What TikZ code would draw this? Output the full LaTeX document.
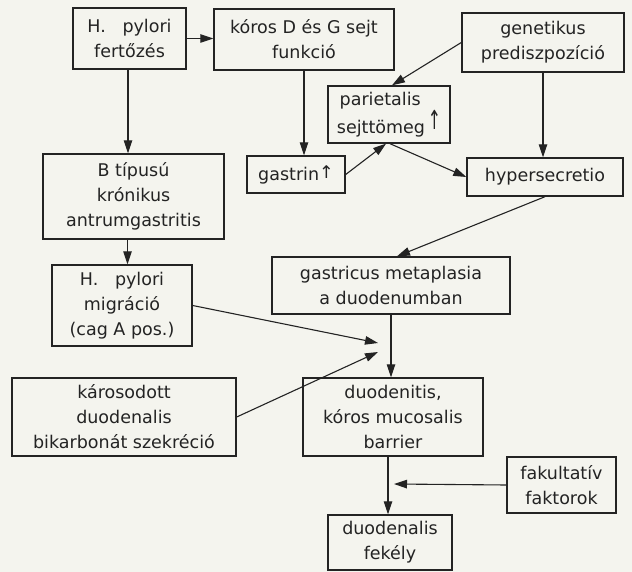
\documentclass[tikz,border=0pt]{standalone}
\usepackage{fontspec}
\setmainfont{DejaVu Sans}
\usepackage{tikz}
\usetikzlibrary{arrows.meta}

\definecolor{paper}{RGB}{244,244,238}
\definecolor{ink}{RGB}{35,35,35}

\tikzset{
    box/.style={draw=ink, line width=1.4pt, text=ink, align=center, inner sep=2pt,
        font=\fontsize{17.5}{25}\selectfont},
    arr/.style={draw=ink, line width=1.1pt, -{Triangle[length=13pt,width=8.5pt]}}
}

\begin{document}
\begin{tikzpicture}[x=1pt, y=-1pt]
    \fill[paper] (0, 0) rectangle (632, 572);
    \useasboundingbox (0, 0) rectangle (632, 572);

    % upper row
    \node[box, minimum width=113pt, minimum height=61pt] (fert) at (129.5, 38.5) {H.~~~pylori\\fertőzés};
    \node[box, minimum width=180pt, minimum height=61pt] (dg) at (304, 39.5) {kóros D és G sejt\\funkció};
    \node[box, minimum width=162pt, minimum height=59pt] (gen) at (543, 42.5) {genetikus\\prediszpozíció};

    \node[box, minimum width=122pt, minimum height=57pt] (pari) at (389, 114.5)
        {parietalis\phantom{\,↑}\\sejttömeg\,\raisebox{4pt}{\scalebox{0.9}[1.5]{↑}}};
    \node[box, minimum width=98pt, minimum height=37pt] (gastrin) at (296, 174.5) {gastrin\raisebox{2pt}{↑}};
    \node[box, minimum width=156pt, minimum height=38pt] (hyper) at (545, 177) {hypersecretio};
    \node[box, minimum width=181pt, minimum height=85pt] (antrum) at (133.5, 196.5) {B típusú\\krónikus\\antrumgastritis};

    % middle
    \node[box, minimum width=140pt, minimum height=81pt] (migr) at (122, 305.5) {H.~~~pylori\\migráció\\(cag A pos.)};
    \node[box, minimum width=238pt, minimum height=57pt] (metapl) at (391, 285.5) {gastricus metaplasia\\a duodenumban};

    % lower row
    \node[box, minimum width=224pt, minimum height=78pt] (bikarb) at (124, 417) {károsodott\\duodenalis\\bikarbonát szekréció};
    \node[box, minimum width=180pt, minimum height=78pt] (barrier) at (393, 417) {duodenitis,\\kóros mucosalis\\barrier};
    \node[box, minimum width=109pt, minimum height=56pt] (fakult) at (561.5, 485) {fakultatív\\faktorok};
    \node[box, minimum width=124pt, minimum height=55pt] (fekely) at (390, 542.5) {duodenalis\\fekély};

    \coordinate (meetA) at (378, 343);
    \coordinate (meetB) at (378, 352);
    \coordinate (fakIn) at (394, 484);

    \draw[arr] (fert.east) -- (fert.east -| dg.west);
    \draw[arr] ([xshift=-1.5pt]fert.south) -- ([xshift=-1.5pt]fert.south |- antrum.north);
    \draw[arr] (dg.south) -- (dg.south |- gastrin.north);
    \draw[arr] (gen.west) -- ([xshift=3pt]pari.north);
    \draw[arr] (gen.south) -- (gen.south |- hyper.north);
    \draw[arr] (gastrin.east) -- ([xshift=-3pt]pari.south);
    \draw[arr] ([xshift=1pt]pari.south) -- (hyper.west);
    \draw[arr] (hyper.south) -- ([xshift=6pt]metapl.north);
    \draw[arr] ([xshift=-2pt]antrum.south -| fert.south) -- ([xshift=-2pt]migr.north -| fert.south);
    \draw[arr] (metapl.south) -- (metapl.south |- barrier.north);
    \draw[arr] (migr.east) -- (meetA);
    \draw[arr] (bikarb.east) -- (meetB);
    \draw[arr] ([xshift=-2pt]fekely.north |- barrier.south) -- ([xshift=-2pt]fekely.north);
    \draw[arr] (fakult.west) -- (fakIn);

\end{tikzpicture}
\end{document}
